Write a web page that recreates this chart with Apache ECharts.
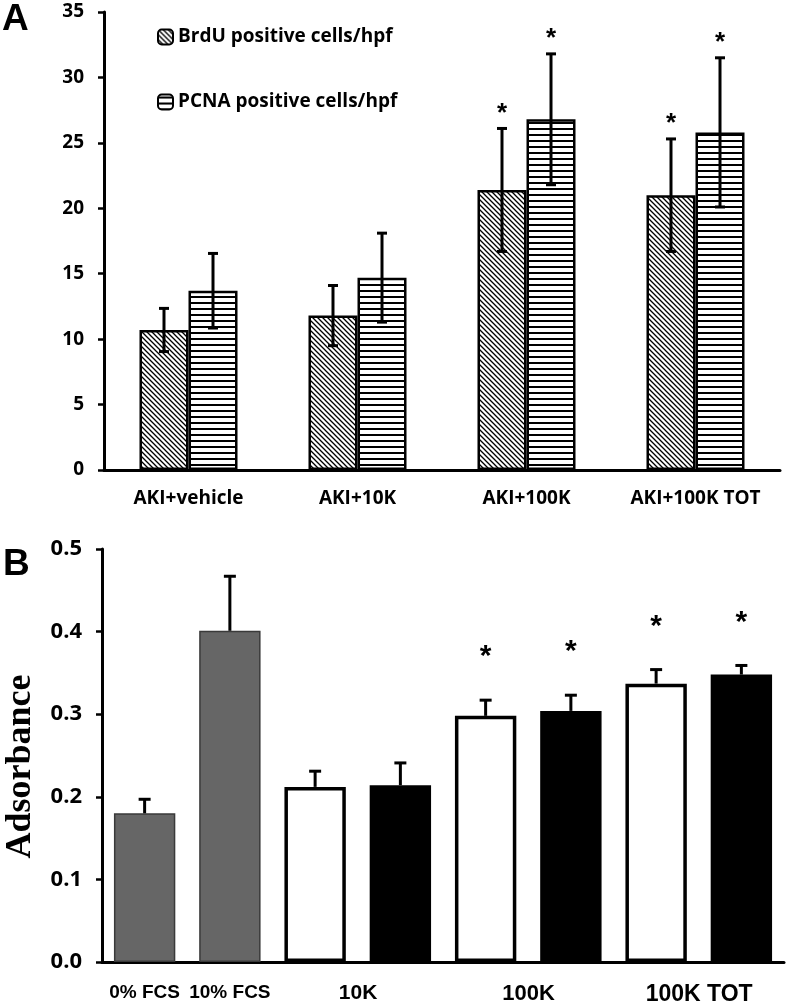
<!DOCTYPE html>
<html>
<head>
<meta charset="utf-8">
<script src="https://cdn.jsdelivr.net/npm/echarts@6/dist/echarts.min.js"></script>
<style>
  html, body { margin: 0; padding: 0; background: #fff; }
  #main { width: 792px; height: 1006px; }
</style>
</head>
<body>
<div id="main"></div>
<script>
// panel A data
var groupsA = ['AKI+vehicle', 'AKI+10K', 'AKI+100K', 'AKI+100K TOT'];
var brduMean = [10.7, 11.8, 21.4, 21.0];
var brduSd = [1.65, 2.3, 4.7, 4.3];
var pcnaMean = [13.7, 14.7, 26.8, 25.8];
var pcnaSd = [2.85, 3.4, 5.0, 5.7];
var brduStar = [0, 0, 1, 1];
var pcnaStar = [0, 0, 1, 1];

// panel B data
var barsB = ['0% FCS', '10% FCS', '10K', '10K', '100K', '100K', '100K TOT', '100K TOT'];
var absMean = [0.180, 0.401, 0.212, 0.214, 0.298, 0.304, 0.337, 0.348];
var absErr = [0.017, 0.066, 0.019, 0.027, 0.019, 0.019, 0.017, 0.011];
var absStar = [0, 0, 0, 0, 1, 1, 1, 1];
var barKind = ['gray', 'gray', 'white', 'black', 'white', 'black', 'white', 'black'];
var labelSizeB = [19, 19, 21, 21, 22, 22, 23, 23];

// hatch fills
function hatch(kind) {
    var c = document.createElement('canvas');
    var ctx = c.getContext('2d');
    if (kind === 'diag') {
        c.width = 5; c.height = 5;
        ctx.fillStyle = '#fff';
        ctx.fillRect(0, 0, 5, 5);
        ctx.strokeStyle = '#000';
        ctx.lineWidth = 1.3;
        ctx.beginPath();
        ctx.moveTo(-1, -1); ctx.lineTo(6, 6);
        ctx.moveTo(-1, 4); ctx.lineTo(1, 6);
        ctx.moveTo(4, -1); ctx.lineTo(6, 1);
        ctx.stroke();
    } else {
        c.width = 6; c.height = 6;
        ctx.fillStyle = '#fff';
        ctx.fillRect(0, 0, 6, 6);
        ctx.fillStyle = '#000';
        ctx.fillRect(0, 2, 6, 2);
    }
    return c;
}

var chartDom = document.getElementById('main');
var myChart = echarts.init(chartDom);

function errA(means, sds, stars, side) {
    return function (params, api) {
        var i = params.dataIndex;
        var band = api.size([1, 0])[0];
        var base = api.coord([i, means[i]]);
        var x = base[0] + side * band * 0.145;
        var top = api.coord([i, means[i] + sds[i]])[1];
        var bot = api.coord([i, means[i] - sds[i]])[1];
        var st = { stroke: '#000', lineWidth: 3 };
        var kids = [
            { type: 'line', shape: { x1: x, y1: top, x2: x, y2: bot }, style: st },
            { type: 'line', shape: { x1: x - 5, y1: top, x2: x + 5, y2: top }, style: st },
            { type: 'line', shape: { x1: x - 5, y1: bot, x2: x + 5, y2: bot }, style: st }
        ];
        if (stars[i]) {
            kids.push({ type: 'text', style: {
                x: x, y: top - 15, text: '*', align: 'center', verticalAlign: 'middle',
                font: 'bold 26px "Liberation Sans"', fill: '#000'
            } });
        }
        return { type: 'group', children: kids };
    };
}

function errB(params, api) {
    var i = params.dataIndex;
    var x = api.coord([i, absMean[i]])[0];
    var y0 = api.coord([i, absMean[i]])[1];
    var top = api.coord([i, absMean[i] + absErr[i]])[1];
    var st = { stroke: '#000', lineWidth: 3 };
    var kids = [
        { type: 'line', shape: { x1: x, y1: y0, x2: x, y2: top }, style: st },
        { type: 'line', shape: { x1: x - 6, y1: top, x2: x + 6, y2: top }, style: st }
    ];
    if (absStar[i]) {
        kids.push({ type: 'text', style: {
            x: x, y: top - 43, text: '*', align: 'center', verticalAlign: 'middle',
            font: 'bold 30px "Liberation Sans"', fill: '#000'
        } });
    }
    return { type: 'group', children: kids };
}

var kindStyle = {
    gray: { color: '#666666', borderColor: '#3a3a3a', borderWidth: 1.5 },
    white: { color: '#ffffff', borderColor: '#000', borderWidth: 3.5 },
    black: { color: '#000000', borderColor: '#000', borderWidth: 0 }
};

var labelFontA = { fontFamily: 'Open Sans', fontWeight: 'bold', fontSize: 19, color: '#000' };

var catB = barsB.map(function (name, i) {
    if (i > 2 && name === barsB[i - 1]) return { value: '' };
    if (i >= 2) return { value: name, textStyle: { fontSize: labelSizeB[i], padding: [0, 0, 0, 86] } };
    return { value: name, textStyle: { fontSize: labelSizeB[i] } };
});

var option;
option = {
    animation: false,
    backgroundColor: '#fff',
    title: [
        { text: 'A', left: -3, top: -4, textStyle: { fontFamily: 'Liberation Sans', fontWeight: 'bold', fontSize: 37, color: '#000' } },
        { text: 'B', left: -2, top: 541, textStyle: { fontFamily: 'Liberation Sans', fontWeight: 'bold', fontSize: 37, color: '#000' } }
    ],
    legend: {
        data: ['BrdU positive cells/hpf', 'PCNA positive cells/hpf'],
        orient: 'vertical',
        left: 152,
        top: 22,
        itemWidth: 15,
        itemHeight: 15,
        itemGap: 45,
        selectedMode: false,
        textStyle: { fontFamily: 'Open Sans', fontWeight: 'bold', fontSize: 19, lineHeight: 20, color: '#000' }
    },
    grid: [
        { left: 104, right: 12, top: 12, height: 458, outerBoundsMode: 'none' },
        { left: 102, right: 8, top: 549, height: 413, outerBoundsMode: 'none' }
    ],
    xAxis: [
        {
            type: 'category', gridIndex: 0, data: groupsA,
            axisLine: { lineStyle: { color: '#000', width: 3 } },
            axisTick: { lineStyle: { color: '#000', width: 2.5 }, length: 6 },
            axisLabel: Object.assign({ margin: 19, interval: 0 }, labelFontA)
        },
        {
            type: 'category', gridIndex: 1, data: catB,
            axisLine: { lineStyle: { color: '#000', width: 3 } },
            axisTick: { lineStyle: { color: '#000', width: 2.5 }, length: 6, interval: 0 },
            axisLabel: { interval: 0, margin: 21, fontFamily: 'Liberation Sans', fontWeight: 'bold', color: '#000' }
        }
    ],
    yAxis: [
        {
            type: 'value', gridIndex: 0, min: 0, max: 35, interval: 5,
            splitLine: { show: false },
            axisLine: { show: true, lineStyle: { color: '#000', width: 3 } },
            axisTick: { show: true, lineStyle: { color: '#000', width: 2.5 }, length: 6 },
            axisLabel: Object.assign({ margin: 20 }, labelFontA)
        },
        {
            type: 'value', gridIndex: 1, min: 0, max: 0.5, interval: 0.1,
            name: 'Adsorbance', nameLocation: 'middle', nameGap: 63,
            nameTextStyle: { fontFamily: 'Liberation Serif', fontWeight: 'bold', fontSize: 36, color: '#000', padding: [0, 22, 0, 0] },
            splitLine: { show: false },
            axisLine: { show: true, lineStyle: { color: '#000', width: 3 } },
            axisTick: { show: true, lineStyle: { color: '#000', width: 2.5 }, length: 6 },
            axisLabel: { margin: 20, fontFamily: 'Open Sans', fontWeight: 'bold', fontSize: 22, color: '#000',
                formatter: function (v) { return v.toFixed(1); } }
        }
    ],
    series: [
        {
            name: 'BrdU positive cells/hpf', type: 'bar', xAxisIndex: 0, yAxisIndex: 0,
            data: brduMean, barWidth: '29%', barGap: '0%',
            itemStyle: { color: { image: hatch('diag'), repeat: 'repeat' }, borderColor: '#000', borderWidth: 2.5 }
        },
        {
            name: 'PCNA positive cells/hpf', type: 'bar', xAxisIndex: 0, yAxisIndex: 0,
            data: pcnaMean, barWidth: '29%', barGap: '0%',
            itemStyle: { color: { image: hatch('horiz'), repeat: 'repeat' }, borderColor: '#000', borderWidth: 2.5 }
        },
        {
            type: 'custom', xAxisIndex: 0, yAxisIndex: 0, z: 5,
            data: brduMean.map(function (v, i) { return [i, v]; }),
            renderItem: errA(brduMean, brduSd, brduStar, -1)
        },
        {
            type: 'custom', xAxisIndex: 0, yAxisIndex: 0, z: 5,
            data: pcnaMean.map(function (v, i) { return [i, v]; }),
            renderItem: errA(pcnaMean, pcnaSd, pcnaStar, 1)
        },
        {
            type: 'bar', xAxisIndex: 1, yAxisIndex: 1, barWidth: '72%',
            data: absMean.map(function (v, i) { return { value: v, itemStyle: kindStyle[barKind[i]] }; })
        },
        {
            type: 'custom', xAxisIndex: 1, yAxisIndex: 1, z: 5,
            data: absMean.map(function (v, i) { return [i, v]; }),
            renderItem: errB
        }
    ]
};
option && myChart.setOption(option);
</script>
</body>
</html>
